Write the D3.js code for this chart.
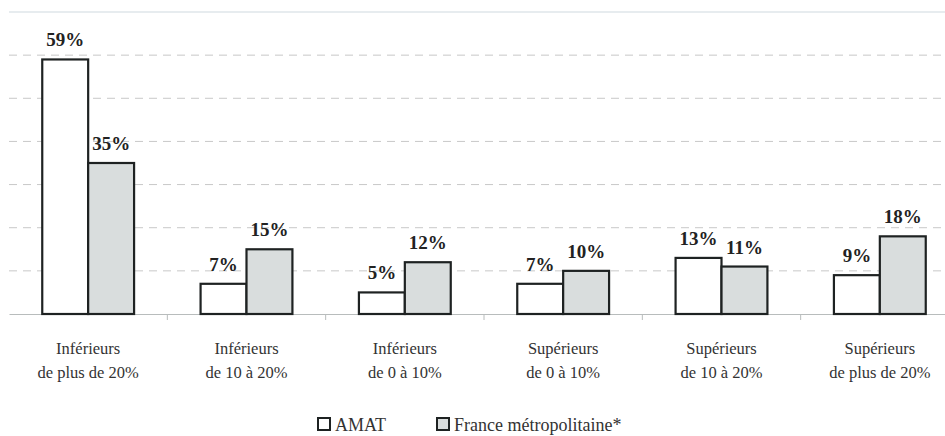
<!DOCTYPE html>
<html><head><meta charset="utf-8">
<script src="https://cdn.jsdelivr.net/npm/d3@7/dist/d3.min.js"></script>
<style>body{margin:0;background:#fff}svg{display:block}
text{font-family:"Liberation Serif","Times New Roman",serif}</style>
</head><body>
<svg id="c" width="945" height="436"></svg>
<script>
const categories = [["Inférieurs","de plus de 20%"],["Inférieurs","de 10 à 20%"],["Inférieurs","de 0 à 10%"],["Supérieurs","de 0 à 10%"],["Supérieurs","de 10 à 20%"],["Supérieurs","de plus de 20%"]];
const seriesNames = ["AMAT","France métropolitaine*"];
const amat = [59,7,5,7,13,9];
const france = [35,15,12,10,11,18];
const yTicks = [0,10,20,30,40,50,60,70];

const svg = d3.select("#c");
const m = {l:9, r:-14, t:12, b:122};
const W = 945, H = 436;
const x = d3.scaleBand().domain(d3.range(categories.length)).range([m.l, W - m.r]).padding(0);
const y = d3.scaleLinear().domain([0,70]).range([H - m.b, m.t]);
const bw = x.bandwidth() * 0.29;
const fills = ["#ffffff", "#d9dddd"];

// top frame line
svg.append("line").attr("x1", m.l).attr("x2", W).attr("y1", y(70)).attr("y2", y(70))
  .attr("stroke", "#dfe6ea").attr("stroke-width", 1.5);
// gridlines
svg.append("g").selectAll("line").data(yTicks.filter(d => d > 0 && d < 70)).join("line")
  .attr("x1", m.l).attr("x2", W).attr("y1", d => y(d)).attr("y2", d => y(d))
  .attr("stroke", "#c8c8c8").attr("stroke-dasharray", "8,6").attr("stroke-width", 1);

// baseline axis
const xAxis = d3.axisBottom(x).tickSize(0).tickFormat("");
const ga = svg.append("g").attr("transform", `translate(0,${y(0)})`).call(xAxis);
ga.select(".domain").attr("stroke", "#b8bcbc").attr("stroke-width", 1.2);
ga.selectAll(".btick").data(d3.range(1, categories.length)).join("line")
  .attr("x1", d => x(d)).attr("x2", d => x(d)).attr("y1", 0).attr("y2", 6)
  .attr("stroke", "#b8bcbc");

const data = [amat, france];
data.forEach((vals, s) => {
  const g = svg.append("g");
  g.selectAll("rect").data(vals).join("rect")
    .attr("x", (d, i) => x(i) + x.bandwidth() / 2 - bw + s * bw)
    .attr("y", d => y(d))
    .attr("width", bw)
    .attr("height", d => y(0) - y(d))
    .attr("fill", fills[s]).attr("stroke", "#1e2222").attr("stroke-width", 2.2);
  g.selectAll("text").data(vals).join("text")
    .attr("x", (d, i) => x(i) + x.bandwidth() / 2 - bw / 2 + s * bw)
    .attr("y", d => y(d) - 13)
    .attr("text-anchor", "middle")
    .attr("font-weight", "bold").attr("font-size", 19)
    .attr("fill", "#222").text(d => d + "%");
});

// category labels
const cl = svg.append("g");
categories.forEach((c, i) => {
  c.forEach((line, j) => {
    cl.append("text").attr("x", x(i) + x.bandwidth() / 2).attr("y", 354 + j * 24)
      .attr("text-anchor", "middle").attr("font-size", 16.5)
      .attr("fill", "#333").text(line);
  });
});

// legend
const lg = svg.append("g");
const lx = [318, 437];
seriesNames.forEach((n, i) => {
  lg.append("rect").attr("x", lx[i]).attr("y", 418).attr("width", 12).attr("height", 12)
    .attr("fill", fills[i]).attr("stroke", "#1e2222").attr("stroke-width", 2);
  lg.append("text").attr("x", lx[i] + 17).attr("y", 431)
    .attr("font-size", 18).attr("fill", "#333").text(n);
});
</script>
</body></html>
